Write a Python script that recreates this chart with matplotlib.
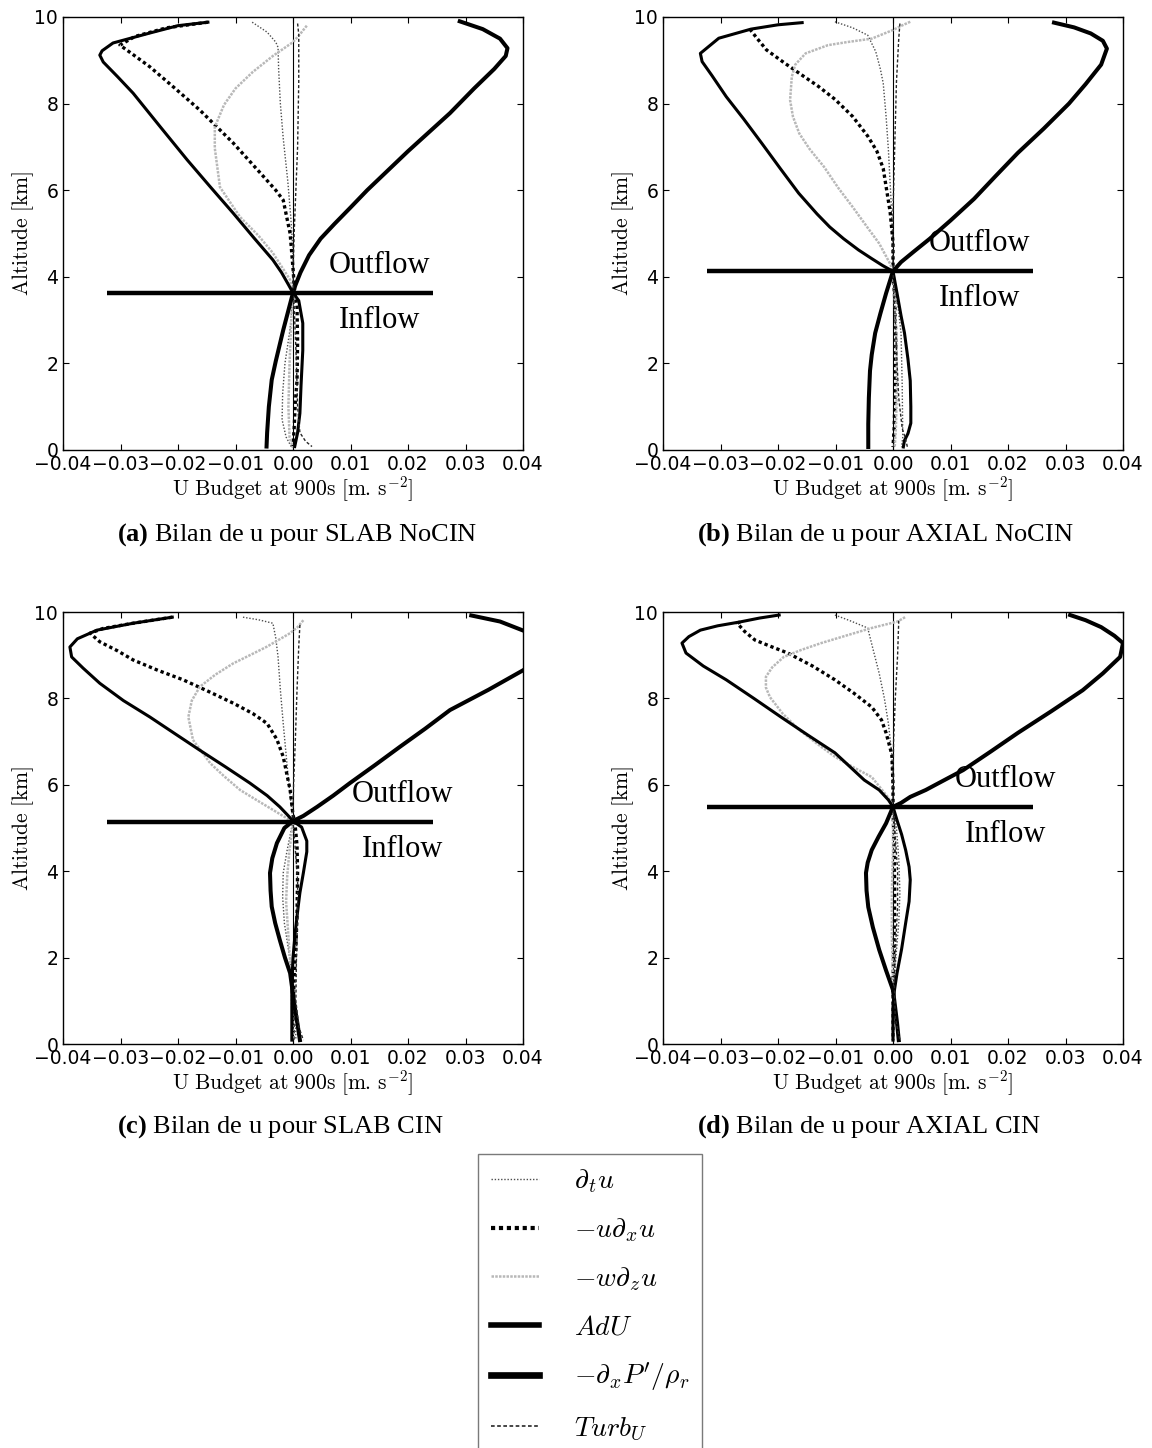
import matplotlib
matplotlib.use('Agg')
import matplotlib.pyplot as plt

plt.rcParams['mathtext.fontset'] = 'cm'
plt.rcParams['mathtext.rm'] = 'Liberation Serif'
plt.rcParams['mathtext.bf'] = 'Liberation Serif:bold'

# ---- profiles: (value [m s-2], altitude [km]) ----
# (a) SLAB NoCIN
a_dtu = [(-0.0071, 9.88), (-0.0045, 9.65), (-0.0030, 9.42), (-0.0026, 9.30), (-0.0025, 8.80),
         (-0.0022, 8.00), (-0.0017, 7.20), (-0.0009, 6.20), (-0.0004, 5.40), (0.0, 4.60), (0.0, 3.63),
         (-0.0005, 2.80), (-0.0014, 2.00), (-0.0018, 1.30), (-0.0019, 0.70), (-0.0012, 0.30), (-0.0002, 0.05)]
a_uadv = [(-0.0148, 9.88), (-0.0220, 9.75), (-0.0275, 9.55), (-0.0301, 9.35), (-0.0280, 9.15),
          (-0.0249, 8.85), (-0.0205, 8.35), (-0.0162, 7.85), (-0.0104, 7.09), (-0.0057, 6.40),
          (-0.0030, 6.00), (-0.0017, 5.77), (-0.0005, 5.00), (0.0, 4.20), (0.0003, 3.63), (0.0007, 3.30),
          (0.0008, 2.50), (0.0007, 1.60), (0.0004, 1.10), (0.0002, 0.50), (0.0, 0.08)]
a_wadv = [(0.0024, 9.80), (0.0012, 9.60), (0.0, 9.42), (-0.0035, 9.10), (-0.0070, 8.73), (-0.0100, 8.35),
          (-0.0120, 7.97), (-0.0136, 7.46), (-0.0136, 6.97), (-0.0127, 6.07), (-0.0092, 5.38),
          (-0.0060, 4.95), (-0.0035, 4.55), (-0.0005, 3.93), (0.0, 3.63), (-0.0003, 3.00),
          (-0.0006, 2.00), (-0.0008, 1.00), (-0.0006, 0.30), (0.0, 0.05)]
a_adu = [(-0.0148, 9.88), (-0.0200, 9.80), (-0.0249, 9.63), (-0.0313, 9.40), (-0.0332, 9.22),
         (-0.0336, 9.12), (-0.0330, 8.96), (-0.0305, 8.62), (-0.0278, 8.24), (-0.0230, 7.45),
         (-0.0184, 6.70), (-0.0144, 6.08), (-0.0104, 5.47), (-0.0068, 4.90), (-0.0035, 4.39),
         (-0.0020, 4.10), (-0.0008, 3.82), (0.0, 3.63), (0.0010, 3.45), (0.0017, 2.93), (0.0017, 2.30),
         (0.0014, 1.50), (0.0012, 0.85), (0.0008, 0.40), (0.0003, 0.08)]
a_pres = [(0.0290, 9.90), (0.0330, 9.72), (0.0360, 9.50), (0.0373, 9.28), (0.0370, 9.10), (0.0350, 8.80),
          (0.0315, 8.35), (0.0273, 7.78), (0.0200, 6.90), (0.0129, 6.00), (0.0100, 5.60), (0.0072, 5.22),
          (0.0048, 4.88), (0.0028, 4.50), (0.0013, 4.10), (0.0004, 3.80), (0.0, 3.63), (-0.0017, 2.77),
          (-0.0030, 2.05), (-0.0037, 1.62), (-0.0042, 1.00), (-0.0045, 0.40), (-0.0046, 0.08)]
a_turb = [(0.0008, 9.85), (0.0010, 9.60), (0.0010, 8.50), (0.0008, 7.00), (0.0005, 6.00), (0.0002, 5.00),
          (0.0, 4.00), (0.0003, 3.00), (0.0006, 2.00), (0.0008, 1.00), (0.0012, 0.40), (0.0022, 0.20),
          (0.0033, 0.08)]

# (b) AXIAL NoCIN
b_dtu = [(-0.0101, 9.89), (-0.0070, 9.75), (-0.0044, 9.58), (-0.0030, 9.20), (-0.0022, 8.80),
         (-0.0017, 8.47), (-0.0012, 7.70), (-0.0008, 6.93), (-0.0002, 5.40), (0.0, 4.13), (0.0008, 3.40),
         (0.0014, 2.70), (0.0016, 1.50), (0.0017, 0.30), (0.0015, 0.07)]
b_uadv = [(-0.0249, 9.72), (-0.0236, 9.50), (-0.0220, 9.24), (-0.0190, 8.95), (-0.0163, 8.70),
          (-0.0130, 8.40), (-0.0101, 8.10), (-0.0070, 7.70), (-0.0044, 7.25), (-0.0028, 6.90),
          (-0.0017, 6.50), (-0.0005, 5.50), (0.0, 4.80), (0.0, 4.13), (0.0003, 3.50), (0.0005, 2.50),
          (0.0004, 1.50), (0.0002, 0.50), (0.0, 0.07)]
b_wadv = [(0.0030, 9.89), (0.0015, 9.80), (0.0, 9.70), (-0.0037, 9.50), (-0.0080, 9.42), (-0.0113, 9.35),
          (-0.0152, 9.16), (-0.0170, 8.90), (-0.0176, 8.62), (-0.0179, 8.08), (-0.0174, 7.70),
          (-0.0163, 7.31), (-0.0145, 6.95), (-0.0120, 6.54), (-0.0095, 6.05), (-0.0070, 5.61),
          (-0.0045, 5.15), (-0.0024, 4.77), (-0.0005, 4.30), (0.0, 4.13), (0.0003, 3.50), (0.0006, 2.50),
          (0.0007, 1.50), (0.0005, 0.50), (0.0003, 0.07)]
b_adu = [(-0.0158, 9.87), (-0.0200, 9.82), (-0.0247, 9.72), (-0.0303, 9.51), (-0.0335, 9.16),
         (-0.0332, 8.97), (-0.0315, 8.65), (-0.0290, 8.16), (-0.0260, 7.65), (-0.0228, 7.08),
         (-0.0196, 6.50), (-0.0164, 5.93), (-0.0132, 5.45), (-0.0110, 5.15), (-0.0086, 4.88),
         (-0.0060, 4.62), (-0.0037, 4.42), (-0.0018, 4.26), (-0.0006, 4.17), (0.0, 4.13), (0.0007, 3.62),
         (0.0014, 3.10), (0.0020, 2.70), (0.0026, 2.10), (0.0030, 1.60), (0.0031, 1.00), (0.0031, 0.62),
         (0.0026, 0.38), (0.0020, 0.22), (0.0018, 0.07)]
b_pres = [(0.0280, 9.87), (0.0315, 9.76), (0.0344, 9.62), (0.0365, 9.45), (0.0372, 9.27), (0.0362, 8.90),
          (0.0335, 8.45), (0.0306, 8.00), (0.0262, 7.42), (0.0217, 6.86), (0.0178, 6.32), (0.0141, 5.80),
          (0.0100, 5.30), (0.0064, 4.88), (0.0036, 4.58), (0.0014, 4.34), (0.0, 4.13), (-0.0012, 3.62),
          (-0.0022, 3.15), (-0.0031, 2.70), (-0.0037, 2.20), (-0.0040, 1.83), (-0.0042, 1.20),
          (-0.0043, 0.60), (-0.0043, 0.07)]
b_turb = [(0.0012, 9.85), (0.0010, 9.50), (0.0006, 8.50), (0.0003, 7.00), (0.0, 5.50), (0.0, 4.13),
          (0.0004, 3.00), (0.0007, 2.00), (0.0010, 1.20), (0.0016, 0.50), (0.0022, 0.25), (0.0025, 0.07)]

# (c) SLAB CIN
c_dtu = [(-0.0087, 9.88), (-0.0060, 9.82), (-0.0035, 9.74), (-0.0030, 9.40), (-0.0026, 8.96),
         (-0.0022, 8.20), (-0.0017, 7.42), (-0.0009, 6.27), (-0.0003, 5.50), (0.0, 5.16), (-0.0010, 4.50),
         (-0.0017, 3.96), (-0.0018, 3.40), (-0.0015, 2.80), (-0.0008, 2.20), (0.0, 1.50), (0.0004, 0.80),
         (0.0005, 0.09)]
c_uadv = [(-0.0210, 9.88), (-0.0278, 9.74), (-0.0330, 9.62), (-0.0353, 9.51), (-0.0336, 9.31),
          (-0.0305, 9.10), (-0.0278, 8.89), (-0.0235, 8.65), (-0.0191, 8.43), (-0.0150, 8.18),
          (-0.0104, 7.89), (-0.0070, 7.65), (-0.0045, 7.42), (-0.0028, 7.05), (-0.0017, 6.65),
          (-0.0005, 5.88), (0.0, 5.30), (0.0003, 5.16), (0.0007, 4.60), (0.0008, 4.00), (0.0007, 3.00),
          (0.0005, 2.20), (0.0002, 1.50), (0.0, 0.80), (0.0, 0.09)]
c_wadv = [(0.0018, 9.81), (0.0008, 9.65), (-0.0005, 9.51), (-0.0045, 9.20), (-0.0075, 9.00),
          (-0.0104, 8.81), (-0.0135, 8.55), (-0.0162, 8.27), (-0.0176, 7.95), (-0.0182, 7.57),
          (-0.0174, 7.04), (-0.0144, 6.50), (-0.0120, 6.20), (-0.0092, 5.88), (-0.0060, 5.62),
          (-0.0035, 5.42), (-0.0005, 5.18), (0.0, 5.10), (-0.0006, 4.50), (-0.0010, 3.90),
          (-0.0012, 3.30), (-0.0008, 2.50), (-0.0003, 1.50), (0.0, 0.09)]
c_adu = [(-0.0210, 9.88), (-0.0278, 9.74), (-0.0341, 9.58), (-0.0375, 9.38), (-0.0388, 9.19),
         (-0.0385, 8.96), (-0.0365, 8.70), (-0.0336, 8.35), (-0.0295, 7.95), (-0.0249, 7.57),
         (-0.0205, 7.18), (-0.0162, 6.80), (-0.0118, 6.42), (-0.0075, 6.04), (-0.0045, 5.75),
         (-0.0023, 5.49), (-0.0008, 5.28), (0.0, 5.16), (0.0015, 5.02), (0.0024, 4.70), (0.0024, 4.45),
         (0.0018, 3.96), (0.0012, 3.50), (0.0009, 3.18), (0.0004, 2.60), (0.0, 2.00), (-0.0002, 1.40),
         (-0.0002, 0.86), (-0.0002, 0.09)]
c_pres = [(0.0310, 9.92), (0.0360, 9.78), (0.0410, 9.52), (0.0440, 9.20), (0.0430, 8.90), (0.0400, 8.65),
          (0.0340, 8.20), (0.0273, 7.73), (0.0230, 7.30), (0.0186, 6.88), (0.0143, 6.46), (0.0099, 6.04),
          (0.0070, 5.75), (0.0042, 5.49), (0.0018, 5.28), (0.0, 5.16), (-0.0015, 5.00), (-0.0028, 4.65),
          (-0.0036, 4.30), (-0.0040, 3.96), (-0.0039, 3.55), (-0.0037, 3.18), (-0.0031, 2.80),
          (-0.0023, 2.41), (-0.0014, 2.00), (-0.0005, 1.64), (0.0003, 0.86), (0.0008, 0.45),
          (0.0012, 0.09)]
c_turb = [(0.0012, 9.70), (0.0010, 9.20), (0.0007, 8.20), (0.0004, 7.00), (0.0001, 6.00), (0.0, 5.16),
          (0.0004, 4.50), (0.0008, 3.80), (0.0008, 3.00), (0.0006, 2.00), (0.0005, 1.00), (0.0010, 0.40),
          (0.0018, 0.09)]

# (d) AXIAL CIN
d_dtu = [(-0.0101, 9.93), (-0.0075, 9.80), (-0.0044, 9.63), (-0.0034, 9.10), (-0.0024, 8.58),
         (-0.0015, 8.00), (-0.0008, 7.42), (-0.0002, 6.70), (0.0, 5.49), (0.0006, 5.00), (0.0010, 4.30),
         (0.0012, 3.50), (0.0010, 2.80), (0.0005, 2.00), (0.0, 1.00), (0.0, 0.09)]
d_uadv = [(-0.0266, 9.77), (-0.0271, 9.74), (-0.0258, 9.55), (-0.0240, 9.35), (-0.0212, 9.20),
          (-0.0183, 9.05), (-0.0140, 8.75), (-0.0101, 8.43), (-0.0068, 8.12), (-0.0037, 7.80),
          (-0.0020, 7.50), (-0.0012, 7.20), (-0.0002, 6.70), (0.0, 6.00), (0.0, 5.49), (0.0002, 4.50),
          (0.0003, 3.50), (0.0002, 2.50), (0.0, 1.50), (0.0, 0.09)]
d_wadv = [(0.0021, 9.88), (0.0008, 9.78), (-0.0037, 9.63), (-0.0080, 9.46), (-0.0125, 9.28),
          (-0.0160, 9.12), (-0.0190, 8.96), (-0.0210, 8.72), (-0.0221, 8.50), (-0.0221, 8.25),
          (-0.0214, 8.03), (-0.0192, 7.65), (-0.0163, 7.27), (-0.0132, 6.95), (-0.0101, 6.65),
          (-0.0068, 6.40), (-0.0037, 6.18), (-0.0008, 5.70), (0.0, 5.49), (0.0, 4.50), (-0.0002, 3.50),
          (-0.0002, 2.50), (0.0, 1.50), (0.0, 0.09)]
d_adu = [(-0.0198, 9.93), (-0.0232, 9.86), (-0.0266, 9.77), (-0.0305, 9.68), (-0.0335, 9.58),
         (-0.0355, 9.43), (-0.0367, 9.28), (-0.0360, 9.05), (-0.0330, 8.75), (-0.0290, 8.43),
         (-0.0242, 8.00), (-0.0195, 7.57), (-0.0148, 7.15), (-0.0101, 6.74), (-0.0075, 6.42),
         (-0.0050, 6.11), (-0.0024, 5.88), (-0.0008, 5.65), (0.0, 5.49), (0.0007, 5.18), (0.0015, 4.85),
         (0.0022, 4.49), (0.0028, 4.10), (0.0030, 3.80), (0.0028, 3.30), (0.0022, 2.80), (0.0015, 2.20),
         (0.0007, 1.64), (0.0002, 1.20), (0.0, 0.86), (0.0, 0.09)]
d_pres = [(0.0308, 9.93), (0.0335, 9.81), (0.0362, 9.65), (0.0385, 9.45), (0.0400, 9.28), (0.0395, 8.96),
          (0.0365, 8.58), (0.0330, 8.19), (0.0275, 7.70), (0.0217, 7.20), (0.0170, 6.77), (0.0122, 6.34),
          (0.0088, 6.10), (0.0057, 5.88), (0.0030, 5.72), (0.0014, 5.58), (0.0, 5.49), (-0.0012, 5.11),
          (-0.0025, 4.80), (-0.0037, 4.49), (-0.0044, 4.20), (-0.0047, 3.96), (-0.0046, 3.55),
          (-0.0043, 3.17), (-0.0035, 2.70), (-0.0024, 2.18), (-0.0012, 1.70), (0.0, 1.25),
          (0.0007, 0.49), (0.0010, 0.09)]
d_turb = [(0.0010, 9.80), (0.0008, 9.00), (0.0004, 8.00), (0.0001, 7.00), (0.0, 6.00), (0.0, 5.49),
          (0.0004, 4.80), (0.0008, 4.00), (0.0008, 3.20), (0.0005, 2.40), (0.0002, 1.50), (0.0004, 0.60),
          (0.0012, 0.09)]

# level separating outflow / inflow, and where the two words sit
split_level = [3.63, 4.13, 5.14, 5.49]
split_x = [-0.0323, 0.0244]
word_x = [0.0151, 0.0151, 0.0191, 0.0195]
captions = ['Bilan de u pour SLAB NoCIN', 'Bilan de u pour AXIAL NoCIN',
            'Bilan de u pour SLAB CIN', 'Bilan de u pour AXIAL CIN']
letters = ['a', 'b', 'c', 'd']

labels = [r'$\partial_t u$', r'$-u\partial_x u$', r'$-w\partial_z u$', r'$AdU$',
          r"$-\partial_x P'/\rho_r$", r'$Turb_U$']
styles = [dict(color='0.3', lw=1.0, ls=(0, (1, 1.3))),
          dict(color='k', lw=2.4, ls=(0, (1, 0.9))),
          dict(color='0.72', lw=1.8, ls=(0, (1, 0.5))),
          dict(color='k', lw=2.2, ls='-'),
          dict(color='k', lw=2.9, ls='-'),
          dict(color='0.15', lw=1.0, ls=(0, (2.2, 1.5)))]

panels = [[a_dtu, a_uadv, a_wadv, a_adu, a_pres, a_turb],
          [b_dtu, b_uadv, b_wadv, b_adu, b_pres, b_turb],
          [c_dtu, c_uadv, c_wadv, c_adu, c_pres, c_turb],
          [d_dtu, d_uadv, d_wadv, d_adu, d_pres, d_turb]]

W, H = 1152, 1448
fig = plt.figure(figsize=(W / 100, H / 100), dpi=100)
boxes = [(63, 17, 433), (663, 17, 433), (63, 612, 432), (663, 612, 432)]
cap_pos = [(117, 535), (697, 535), (117, 1127), (697, 1127)]

handles = []
for k, series in enumerate(panels):
    x0, y0, h = boxes[k]
    ax = fig.add_axes([x0 / W, 1 - (y0 + h) / H, 460 / W, h / H])
    ax.axvline(0, color='k', lw=0.8, zorder=1)
    lines = []
    for prof, st in zip(series, styles):
        xs = [p[0] for p in prof]
        zs = [p[1] for p in prof]
        ln, = ax.plot(xs, zs, **st)
        lines.append(ln)
    if k == 0:
        handles = lines
    ax.plot(split_x, [split_level[k]] * 2, color='k', lw=3.2, solid_capstyle='butt', zorder=5)
    ax.text(word_x[k], split_level[k] + 0.46, 'Outflow', family='Liberation Serif', fontsize=22,
            ha='center', va='baseline')
    ax.text(word_x[k], split_level[k] - 0.81, 'Inflow', family='Liberation Serif', fontsize=22,
            ha='center', va='baseline')
    ax.set_xlim(-0.04, 0.04)
    ax.set_ylim(0, 10)
    ax.set_xticks([-0.04, -0.03, -0.02, -0.01, 0.0, 0.01, 0.02, 0.03, 0.04])
    ax.set_yticks([0, 2, 4, 6, 8, 10])
    ax.tick_params(direction='in', top=True, right=True, length=4, width=0.8, labelsize=13.5, pad=3.5)
    for sp in ax.spines.values():
        sp.set_linewidth(1.0)
    ax.set_xlabel(r'$\mathrm{U\ Budget\ at\ 900s\ [m.\,s^{-2}]}$', fontsize=15.5, labelpad=0)
    ax.set_ylabel(r'$\mathrm{Altitude\ [km]}$', fontsize=15.5, labelpad=-1)

    cx, cy = cap_pos[k]
    fig.text(cx / W, 1 - cy / H, r'$\mathbf{(' + letters[k] + r')}$ ' + captions[k],
             family='Liberation Serif', math_fontfamily='custom', fontsize=19, ha='left', va='center')

leg = fig.legend(handles, labels, loc='upper left', bbox_to_anchor=(478 / W, 1 - 1154 / H),
                 bbox_transform=fig.transFigure, borderaxespad=0, fontsize=20, frameon=True,
                 fancybox=False, edgecolor='0.35', handlelength=1.75, handletextpad=1.25,
                 labelspacing=0.72, borderpad=0.45)
leg.get_frame().set_linewidth(1.0)
for ln, w in zip(leg.get_lines(), [1.0, 3.0, 1.8, 4.0, 4.8, 1.2]):
    ln.set_linewidth(w)

fig.savefig('out.png', dpi=100)
